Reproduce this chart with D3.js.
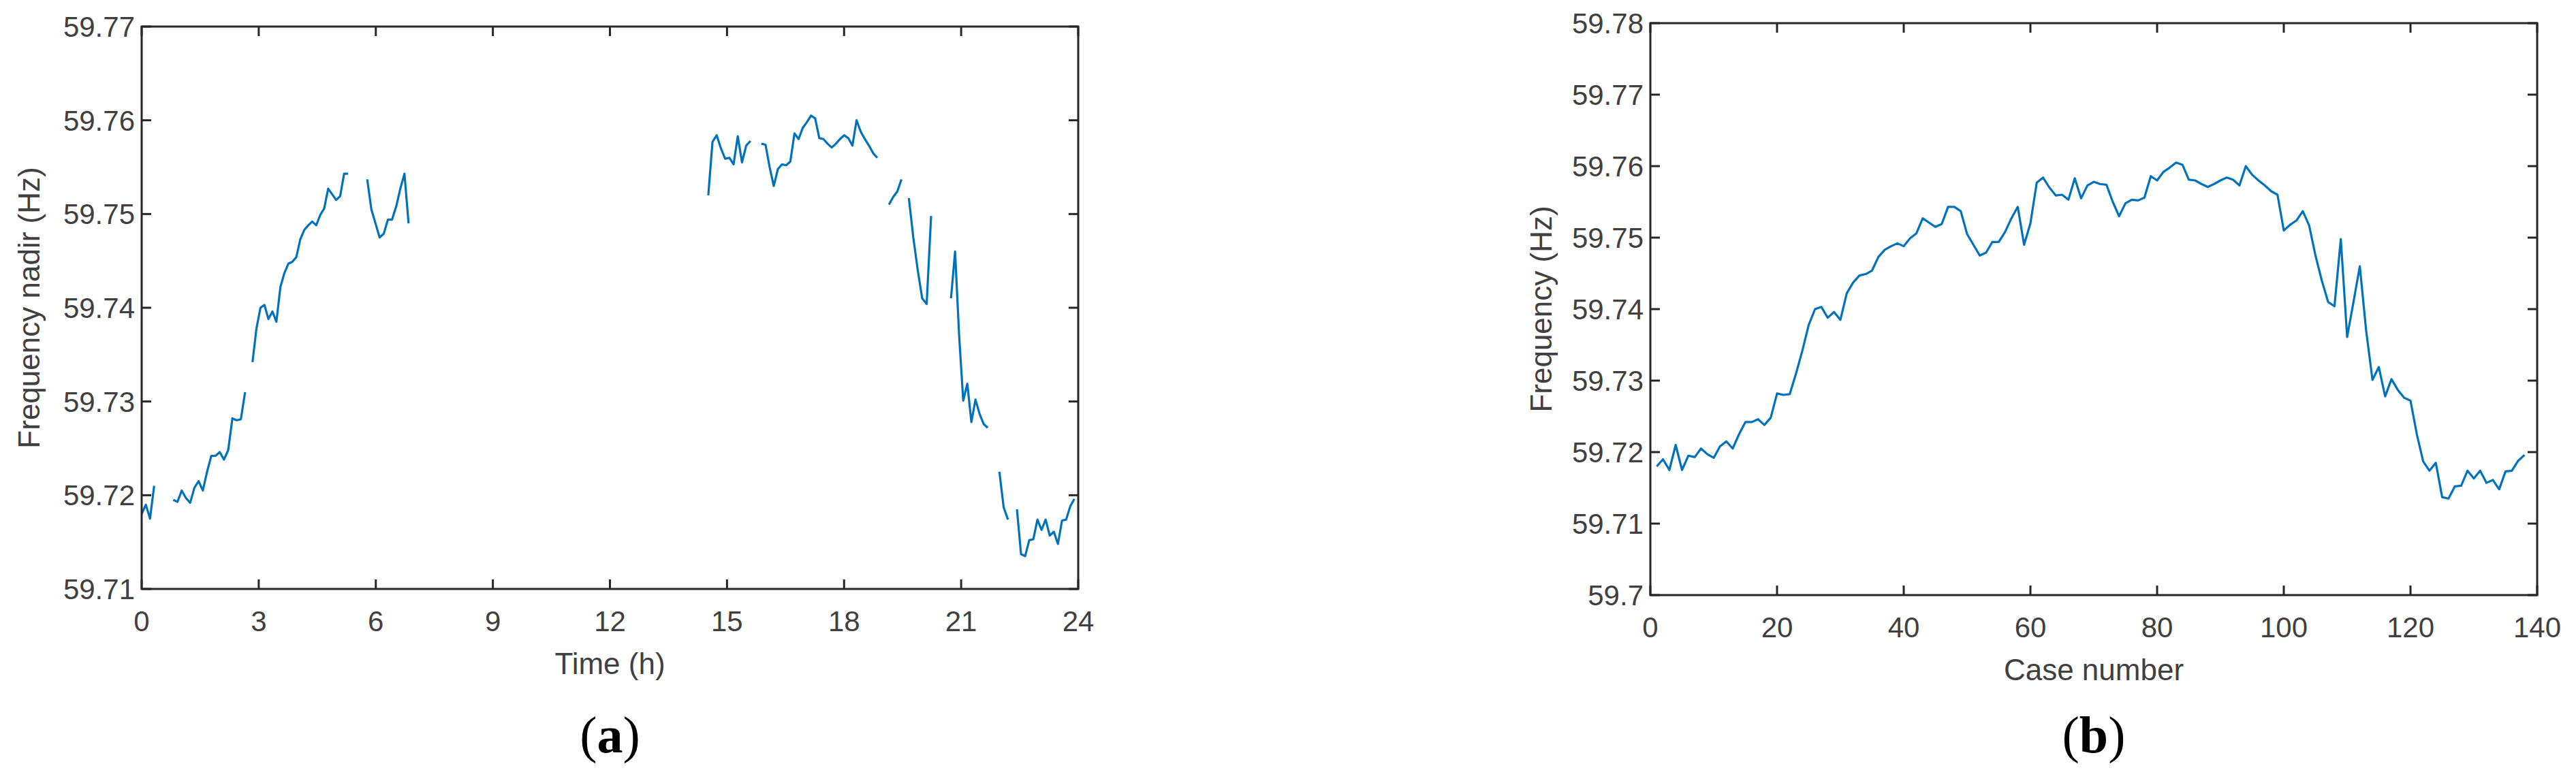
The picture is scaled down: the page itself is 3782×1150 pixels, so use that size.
<!DOCTYPE html>
<html><head><meta charset="utf-8">
<script src="https://cdn.jsdelivr.net/npm/d3@7"></script>
<style>body{margin:0;background:#fff}</style></head>
<body><svg id="c" width="3782" height="1150"></svg>
<script>
const freq = [59.718,59.719,59.7175,59.721,59.7175,59.7195,59.7193,59.7205,59.7197,59.7192,
59.7208,59.7215,59.7205,59.7225,59.7242,59.7242,59.7246,59.7238,59.7248,59.7282,
59.728,59.7281,59.731,59.7342,59.7378,59.74,59.7403,59.7388,59.7396,59.7385,
59.7422,59.7437,59.7447,59.7449,59.7454,59.7473,59.7483,59.7488,59.7492,59.7488,
59.7499,59.7506,59.7527,59.7521,59.7515,59.7519,59.7543,59.7543,59.7537,59.7505,
59.749,59.7475,59.7479,59.7494,59.7494,59.7508,59.7527,59.7543,59.749,59.752,
59.7577,59.7584,59.757,59.7559,59.756,59.7553,59.7583,59.7555,59.7573,59.7578,
59.7575,59.7574,59.755,59.753,59.7548,59.7553,59.7552,59.7556,59.7586,59.758,
59.7592,59.7598,59.7605,59.7602,59.7581,59.758,59.7575,59.7571,59.7575,59.758,
59.7584,59.7581,59.7573,59.76,59.7588,59.758,59.7573,59.7565,59.756,59.751,
59.7518,59.7524,59.7537,59.7517,59.7475,59.744,59.741,59.7404,59.7498,59.7361,
59.741,59.746,59.737,59.7301,59.7319,59.7278,59.7302,59.7287,59.7276,59.7272,
59.7225,59.7187,59.7174,59.7185,59.7137,59.7135,59.7152,59.7153,59.7174,59.7163,
59.7174,59.7157,59.7161,59.7148,59.7173,59.7174,59.7188,59.7196];
// time segments for panel (a): start hour, end hour, first case, last case
const segStart = [0.0, 0.81, 2.84, 5.78, 14.52, 15.88, 19.15, 19.66, 20.74, 21.98, 22.43];
const segEnd   = [0.32, 2.65, 5.29, 6.84, 15.60, 18.85, 19.47, 20.23, 21.68, 22.20, 23.90];
const segFirst = [1, 6, 24, 49, 60, 71, 100, 104, 111, 121, 124];
const segLast  = [4, 23, 48, 59, 70, 99, 103, 109, 120, 123, 138];
const aTicksX = [0,3,6,9,12,15,18,21,24];
const aTicksY = [59.71,59.72,59.73,59.74,59.75,59.76,59.77];
const bTicksX = [0,20,40,60,80,100,120,140];
const bTicksY = [59.7,59.71,59.72,59.73,59.74,59.75,59.76,59.77,59.78];

const svg = d3.select('#c');
const txt = '#404040', ax = '#262626', blue = '#0072BD';
const font = 'Liberation Sans, Arial, sans-serif';

function panel(o){
  const g = svg.append('g');
  const x = d3.scaleLinear().domain(o.xd).range([o.l,o.r]);
  const y = d3.scaleLinear().domain(o.yd).range([o.b,o.t]);
  const line = d3.line().x(d=>x(d[0])).y(d=>y(d[1]));
  o.series.forEach(s=>g.append('path').attr('d',line(s)).attr('fill','none')
    .attr('stroke',blue).attr('stroke-width',3.2).attr('stroke-linejoin','round'));
  const tl=14;
  o.xt.forEach(t=>{
    g.append('line').attr('x1',x(t)).attr('x2',x(t)).attr('y1',o.b).attr('y2',o.b-tl).attr('stroke',ax).attr('stroke-width',3);
    g.append('line').attr('x1',x(t)).attr('x2',x(t)).attr('y1',o.t).attr('y2',o.t+tl).attr('stroke',ax).attr('stroke-width',3);
    g.append('text').attr('x',x(t)).attr('y',o.b+62).attr('text-anchor','middle').attr('font-family',font).attr('font-size',42).attr('fill',txt).text(t);
  });
  o.yt.forEach(t=>{
    g.append('line').attr('y1',y(t)).attr('y2',y(t)).attr('x1',o.l).attr('x2',o.l+tl).attr('stroke',ax).attr('stroke-width',3);
    g.append('line').attr('y1',y(t)).attr('y2',y(t)).attr('x1',o.r).attr('x2',o.r-tl).attr('stroke',ax).attr('stroke-width',3);
    g.append('text').attr('x',o.l-10).attr('y',y(t)+15).attr('text-anchor','end').attr('font-family',font).attr('font-size',42).attr('fill',txt).text(t);
  });
  g.append('rect').attr('x',o.l).attr('y',o.t).attr('width',o.r-o.l).attr('height',o.b-o.t).attr('fill','none').attr('stroke',ax).attr('stroke-width',3);
  g.append('text').attr('x',(o.l+o.r)/2).attr('y',o.b+125).attr('text-anchor','middle').attr('font-family',font).attr('font-size',44).attr('fill',txt).text(o.xl);
  g.append('text').attr('transform',`translate(${o.yx},${(o.t+o.b)/2}) rotate(-90)`).attr('text-anchor','middle').attr('font-family',font).attr('font-size',44).attr('fill',txt).text(o.yl);
  const lab = g.append('text').attr('x',(o.l+o.r)/2).attr('y',1105).attr('text-anchor','middle').attr('font-family','Liberation Serif, Times New Roman, serif').attr('font-size',76).attr('fill','#000');
  lab.append('tspan').text('(');
  lab.append('tspan').attr('font-weight','bold').text(o.tag);
  lab.append('tspan').text(')');
}

const aSeries = segStart.map((s,i)=>{
  const n = segLast[i]-segFirst[i];
  return d3.range(segFirst[i], segLast[i]+1).map((c,k)=>[s + (n? k*(segEnd[i]-s)/n : 0), freq[c-1]]);
});
const bSeries = [freq.map((v,i)=>[i+1,v])];

panel({l:208,r:1583,t:39,b:865,xd:[0,24],yd:[59.71,59.77],xt:aTicksX,yt:aTicksY,series:aSeries,
  xl:'Time (h)',yl:'Frequency nadir (Hz)',yx:58,tag:'a'});
panel({l:2423,r:3725,t:34,b:874,xd:[0,140],yd:[59.70,59.78],xt:bTicksX,yt:bTicksY,series:bSeries,
  xl:'Case number',yl:'Frequency (Hz)',yx:2278,tag:'b'});
</script></body></html>
